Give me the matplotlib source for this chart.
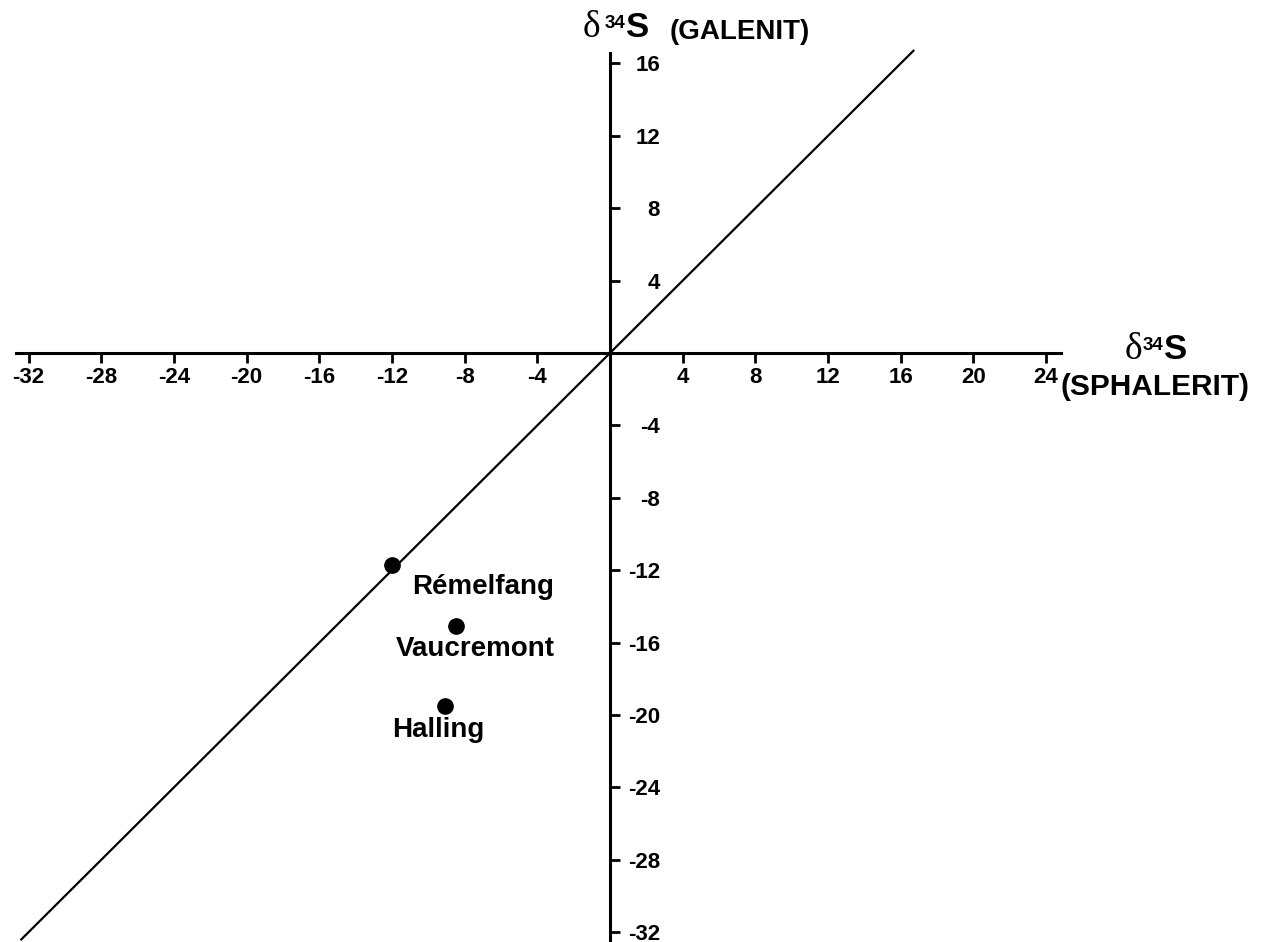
import numpy as np
import matplotlib
matplotlib.use('Agg')
import matplotlib.pyplot as plt

plt.rcParams['font.family'] = ['Liberation Sans', 'DejaVu Sans']
plt.rcParams['font.weight'] = 'bold'

# Daten: delta34S Sphalerit (x) gegen Galenit (y)
orte = ['Rémelfang', 'Vaucremont', 'Halling']
d34s_sphalerit = [-12.0, -8.5, -9.1]
d34s_galenit = [-11.7, -15.1, -19.5]

x_ticks = [-32, -28, -24, -20, -16, -12, -8, -4, 4, 8, 12, 16, 20, 24]
y_ticks = [16, 12, 8, 4, -4, -8, -12, -16, -20, -24, -28, -32]
linie = [-32.4, 16.7]  # Gleichheitslinie y = x

px_x = 18.17  # Pixel pro Einheit
px_y = 18.1
fig = plt.figure(figsize=(12.61, 9.42), dpi=100)
ax = fig.add_axes([0, 0, 1, 1])
ax.set_xlim(-610 / px_x, 651 / px_x)
ax.set_ylim(-589 / px_y, 353 / px_y)

# Achsen durch den Ursprung
ax.spines['top'].set_visible(False)
ax.spines['left'].set_visible(False)
ax.spines['bottom'].set_position(('data', 0))
ax.spines['right'].set_position(('data', 0))
ax.spines['bottom'].set_bounds(-32.7, 24.8)
ax.spines['right'].set_bounds(-32.6, 16.6)
for s in ['bottom', 'right']:
    ax.spines[s].set_linewidth(2.2)

ax.yaxis.tick_right()
ax.set_xticks(x_ticks)
ax.set_yticks(y_ticks)
ax.set_xticklabels([str(t) for t in x_ticks])
ax.set_yticklabels([str(t) for t in y_ticks], ha='right')
ax.tick_params(axis='x', direction='out', length=7, width=2, labelsize=16, pad=3)
ax.tick_params(axis='y', direction='out', length=7, width=2, labelsize=16, pad=29)

ax.plot(linie, linie, color='black', lw=1.6)

ax.plot(d34s_sphalerit, d34s_galenit, 'o', color='black', ms=11)

offsets = [(20, -22, 'left'), (20, -23, 'center'), (-6, -24, 'center')]
for name, x, y, (dx, dy, ha) in zip(orte, d34s_sphalerit, d34s_galenit, offsets):
    ax.annotate(name, (x, y), xytext=(dx, dy), textcoords='offset pixels',
                ha=ha, va='center', fontsize=20, fontweight='bold')


def fig_text(x, y, s, **kw):
    # x, y: Pixel von oben links
    fig.text(x / 1261, 1 - y / 942, s, va='baseline', **kw)


# Achsentitel: delta (Serif), hochgestellte 34, S
fig_text(583, 37, 'δ', family='Liberation Serif', fontweight='normal', fontsize=27)
fig_text(605, 28, '34', fontsize=13.5, fontweight='bold')
fig_text(626, 37, 'S', fontsize=25, fontweight='bold')
fig_text(810, 39, '(GALENIT)', fontsize=20, fontweight='bold', ha='right')

fig_text(1125, 359, 'δ', family='Liberation Serif', fontweight='normal', fontsize=27)
fig_text(1143, 350, '34', fontsize=13.5, fontweight='bold')
fig_text(1164, 359, 'S', fontsize=25, fontweight='bold')
fig_text(1061, 395, '(SPHALERIT)', fontsize=21.5, fontweight='bold', ha='left')

fig.savefig('out.png', dpi=100)
